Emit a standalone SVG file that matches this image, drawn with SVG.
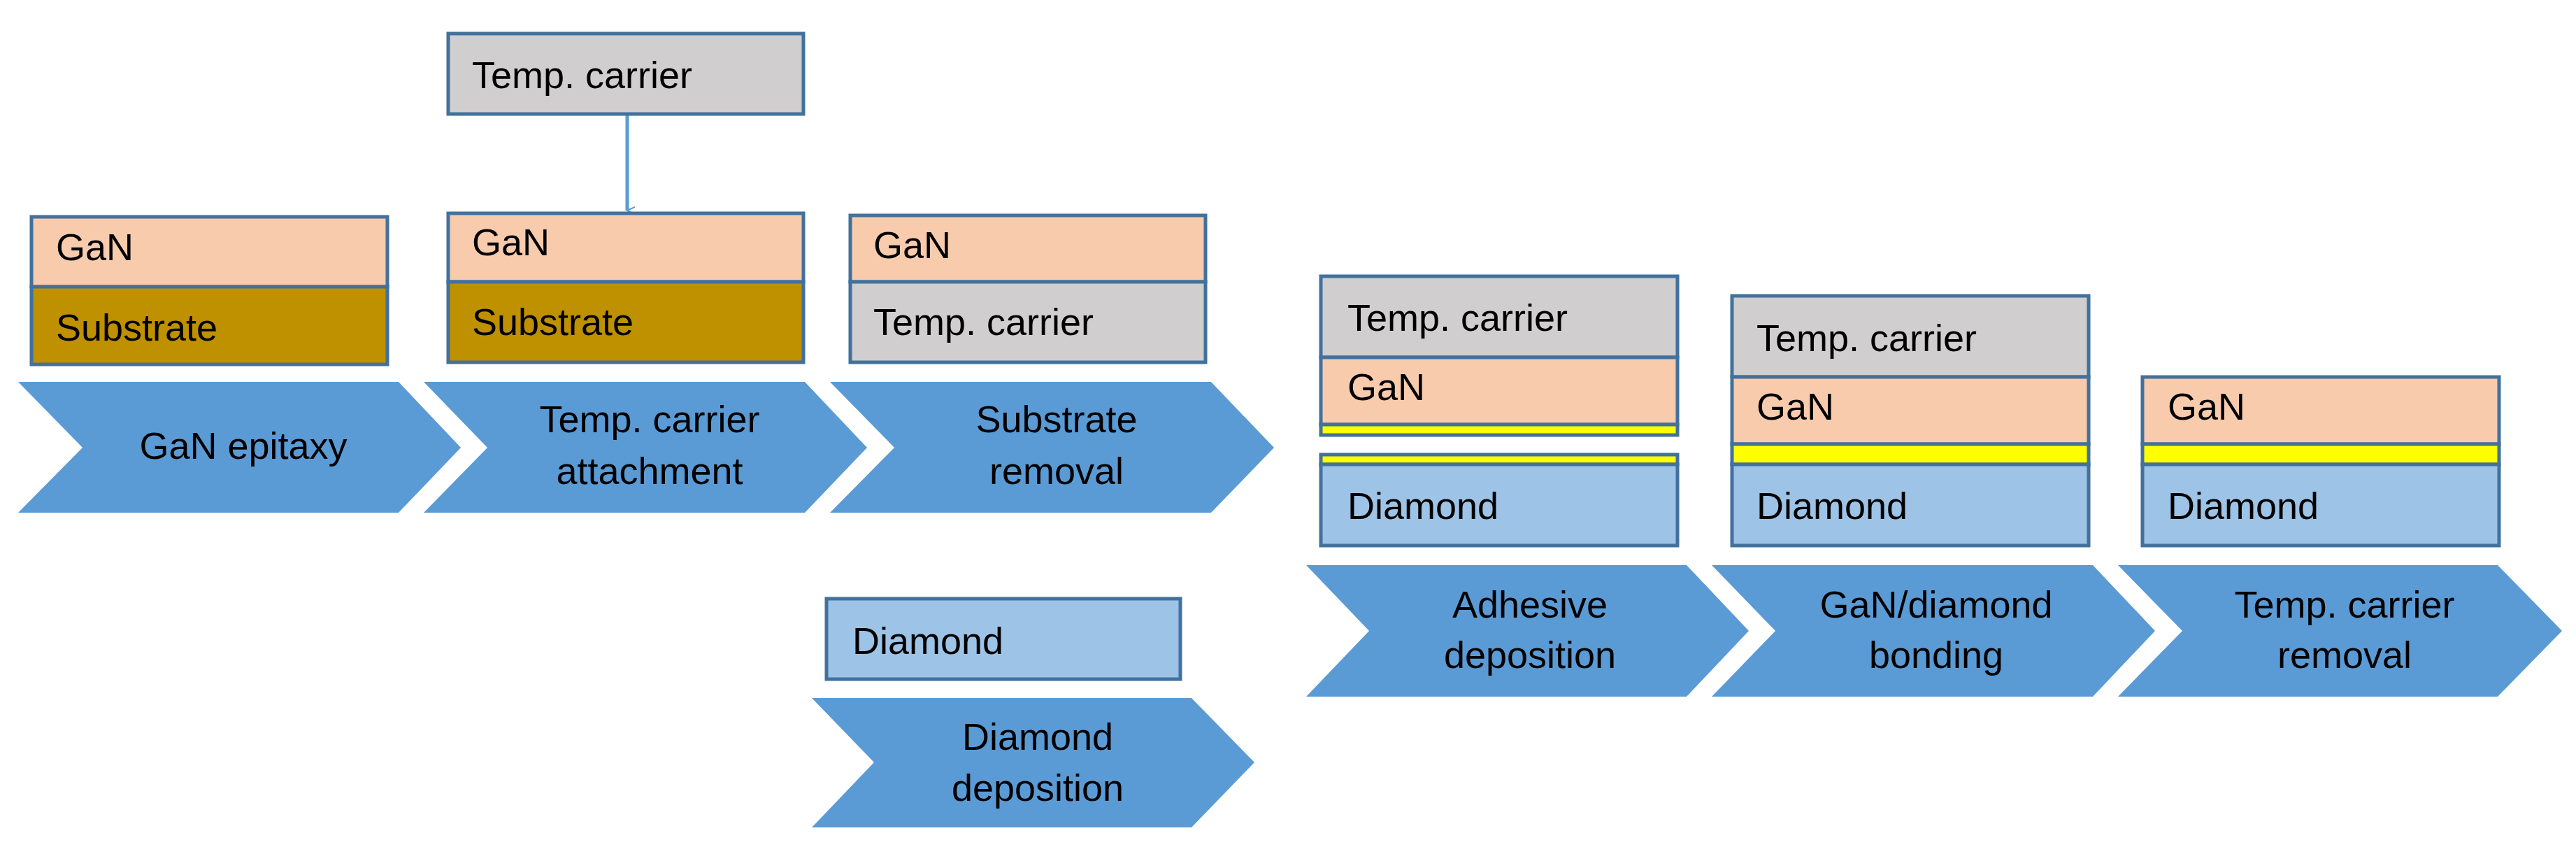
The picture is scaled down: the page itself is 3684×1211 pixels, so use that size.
<svg xmlns="http://www.w3.org/2000/svg" width="3684" height="1211" viewBox="0 0 3684 1211">
<style>
rect{stroke:#41719C;stroke-width:5}
.g{fill:#F8CBAD}.s{fill:#BF9000}.t{fill:#D0CECE}.d{fill:#9DC3E6}.y{fill:#FFFF00}
.ch{fill:#5B9BD5}
text{font-family:"Liberation Sans",Arial,sans-serif;font-size:54px;fill:#000}
.c{text-anchor:middle}
</style>
<defs><marker id="ah" markerWidth="12" markerHeight="12" refX="6" refY="11" orient="auto" markerUnits="userSpaceOnUse" viewBox="0 0 12 12"><path d="M1,0 L6,11 L11,0" fill="none" stroke="#5B9BD5" stroke-width="2"/></marker></defs>
<g id="connectors"><path d="M897,163 V301" stroke="#5B9BD5" stroke-width="5" fill="none" marker-end="url(#ah)"/></g>
<g id="carrier-top"><rect class="t" x="641" y="48" width="508" height="115"/><text x="675" y="126">Temp. carrier</text></g>
<g id="stack1"><rect class="g" x="45" y="310" width="509" height="100"/><rect class="s" x="45" y="410" width="509" height="111"/><text x="80" y="372">GaN</text><text x="80" y="487">Substrate</text></g>
<g id="stack2"><rect class="g" x="641" y="305" width="508" height="98"/><rect class="s" x="641" y="403" width="508" height="115"/><text x="675" y="365">GaN</text><text x="675" y="479">Substrate</text></g>
<g id="stack3"><rect class="g" x="1216" y="308" width="508" height="95"/><rect class="t" x="1216" y="403" width="508" height="115"/><text x="1249" y="369">GaN</text><text x="1249" y="479">Temp. carrier</text></g>
<g id="stackDia"><rect class="d" x="1182" y="856" width="506" height="115"/><text x="1219" y="935">Diamond</text></g>
<g id="stackA"><rect class="t" x="1889" y="395" width="510" height="116"/><rect class="g" x="1889" y="511" width="510" height="96"/><rect class="y" x="1889" y="607" width="510" height="15"/><rect class="y" x="1889" y="650" width="510" height="14"/><rect class="d" x="1889" y="664" width="510" height="116"/><text x="1927" y="473">Temp. carrier</text><text x="1927" y="572">GaN</text><text x="1927" y="742">Diamond</text></g>
<g id="stackB"><rect class="t" x="2477" y="423" width="510" height="116"/><rect class="g" x="2477" y="539" width="510" height="96"/><rect class="y" x="2477" y="635" width="510" height="29"/><rect class="d" x="2477" y="664" width="510" height="116"/><text x="2512" y="502">Temp. carrier</text><text x="2512" y="600">GaN</text><text x="2512" y="742">Diamond</text></g>
<g id="stackC"><rect class="g" x="3064" y="539" width="510" height="96"/><rect class="y" x="3064" y="635" width="510" height="29"/><rect class="d" x="3064" y="664" width="510" height="116"/><text x="3100" y="600">GaN</text><text x="3100" y="742">Diamond</text></g>
<g id="step1"><path class="ch" d="M26,546 H570 L659,640 L570,733 H26 L118,640 Z"/><text class="c" x="348" y="656">GaN epitaxy</text></g>
<g id="step2"><path class="ch" d="M606,546 H1151 L1240,640 L1151,733 H606 L697,640 Z"/><text class="c" x="929" y="618">Temp. carrier</text><text class="c" x="929" y="692">attachment</text></g>
<g id="step3"><path class="ch" d="M1187,546 H1732 L1822,640 L1732,733 H1187 L1279,640 Z"/><text class="c" x="1511" y="618">Substrate</text><text class="c" x="1511" y="692">removal</text></g>
<g id="stepDia"><path class="ch" d="M1161,998 H1704 L1794,1090 L1704,1183 H1161 L1250,1090 Z"/><text class="c" x="1484" y="1072">Diamond</text><text class="c" x="1484" y="1145">deposition</text></g>
<g id="stepA"><path class="ch" d="M1868,808 H2412 L2501,902 L2412,996 H1868 L1958,902 Z"/><text class="c" x="2188" y="883">Adhesive</text><text class="c" x="2188" y="955">deposition</text></g>
<g id="stepB"><path class="ch" d="M2448,808 H2993 L3082,902 L2993,996 H2448 L2539,902 Z"/><text class="c" x="2769" y="883">GaN/diamond</text><text class="c" x="2769" y="955">bonding</text></g>
<g id="stepC"><path class="ch" d="M3029,808 H3572 L3664,902 L3572,996 H3029 L3121,902 Z"/><text class="c" x="3353" y="883">Temp. carrier</text><text class="c" x="3353" y="955">removal</text></g>
</svg>
